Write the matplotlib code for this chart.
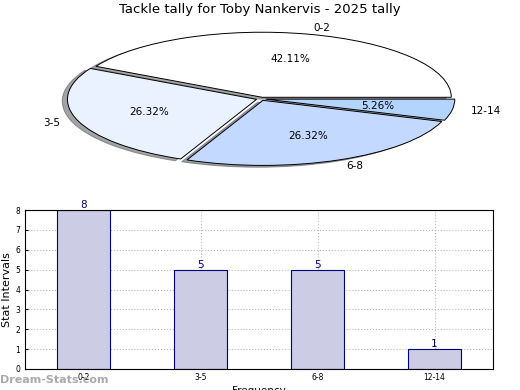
import matplotlib.pyplot as plt
import numpy as np

# Data
categories = ["0-2", "3-5", "6-8", "12-14"]
counts = [8, 5, 5, 1]
pie_colors = ["#ffffff", "#eaf1ff", "#c4d9ff", "#b3d4ff"]

fig = plt.figure(figsize=(5.2, 3.9), dpi=100)

# Pie chart (squashed ellipse)
ax_pie = fig.add_axes([0.102, 0.563, 0.80, 0.367])
wedges, texts, autotexts = ax_pie.pie(
    counts, labels=categories, colors=pie_colors, autopct="%.2f%%",
    startangle=0, counterclock=True, explode=[0.025] * len(counts),
    shadow=True, labeldistance=1.1, pctdistance=0.6,
    wedgeprops={"edgecolor": "black", "linewidth": 0.7},
    textprops={"fontsize": 7.5},
)
ax_pie.set_aspect("auto")
ax_pie.set_xlim(-1.1, 1.1)
ax_pie.set_ylim(-1.1, 1.1)
fig.text(0.5, 0.975, "Tackle tally for Toby Nankervis - 2025 tally",
         ha="center", va="center", fontsize=9.5)

# Bar chart
ax_bar = fig.add_axes([25 / 520, 21 / 390, 468 / 520, 159 / 390])
x = np.arange(len(categories))
ax_bar.bar(x, counts, width=0.45, color="#ccccE5", edgecolor="navy",
           linewidth=0.8, zorder=2)
for xi, c in zip(x, counts):
    ax_bar.text(xi, c, str(c), ha="center", va="bottom", fontsize=7.5,
                color="navy")
ax_bar.set_xlim(-0.5, 3.5)
ax_bar.set_ylim(0, 8)
ax_bar.set_xticks(x)
ax_bar.set_xticklabels(categories, fontsize=5.5)
ax_bar.set_yticks(range(9))
ax_bar.tick_params(axis="y", labelsize=5.5, length=2, direction="in")
ax_bar.tick_params(axis="x", length=2, direction="in", pad=3)
ax_bar.grid(True, linestyle=":", color="#bbbbbb", linewidth=0.8, zorder=0)
ax_bar.set_axisbelow(True)
ax_bar.set_ylabel("Stat Intervals", fontsize=8, labelpad=2)
ax_bar.set_xlabel("Frequency", fontsize=7.5, labelpad=3)

fig.text(0.0, 0.025, "Dream-Stats.com", fontsize=8, color="#aaaaaa",
         fontweight="bold", ha="left", va="center")

fig.savefig("out.png", dpi=100)
